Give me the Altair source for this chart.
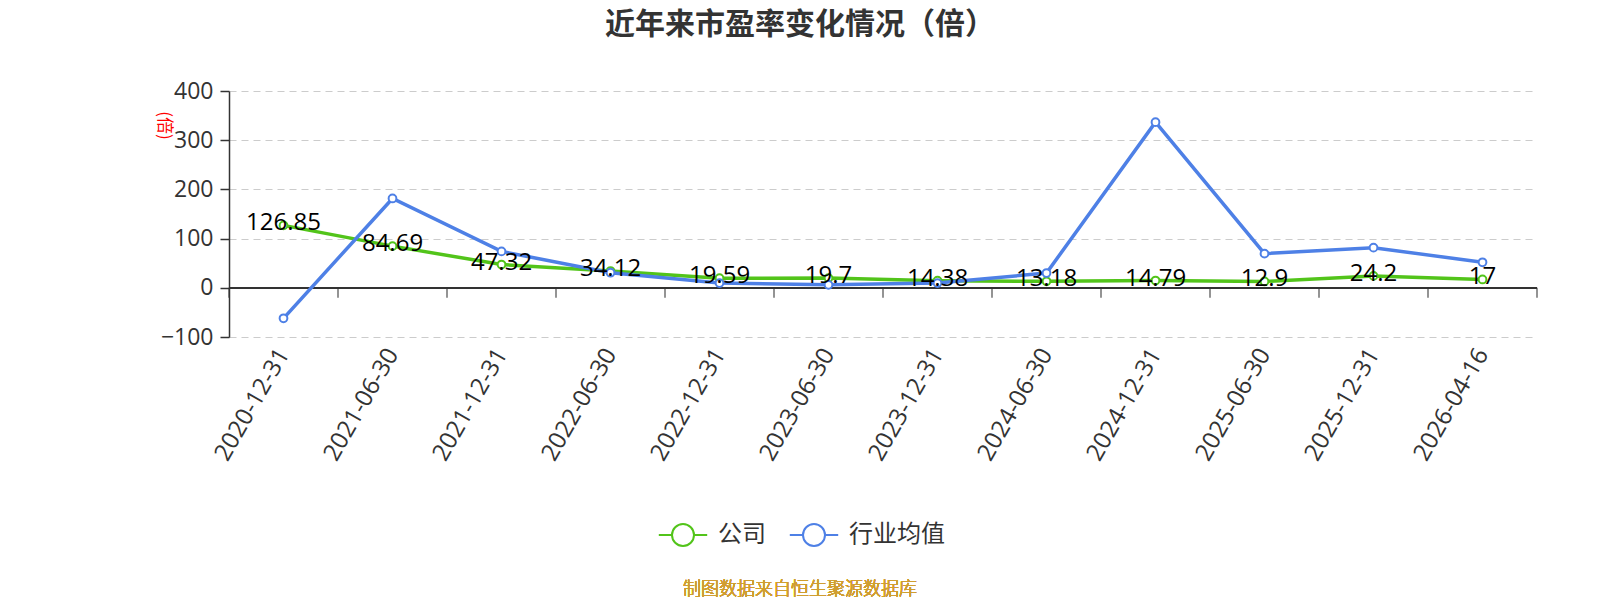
import altair as alt
import pandas as pd

dates = ["2020-12-31", "2021-06-30", "2021-12-31", "2022-06-30", "2022-12-31", "2023-06-30",
         "2023-12-31", "2024-06-30", "2024-12-31", "2025-06-30", "2025-12-31", "2026-04-16"]
company = [126.85, 84.69, 47.32, 34.12, 19.59, 19.7, 14.38, 13.18, 14.79, 12.9, 24.2, 17]
industry = [-62, 181.6, 74, 30.6, 9.6, 6, 9.6, 30, 336.7, 69.4, 81.6, 51.8]
series_names = ["公司", "行业均值"]
series_colors = ["#52c41a", "#4e80e6"]

rows = []
for i, d in enumerate(dates):
    rows.append({"idx": i, "date": d, "series": series_names[0], "value": company[i],
                 "label": f"{company[i]:g}"})
    rows.append({"idx": i, "date": d, "series": series_names[1], "value": industry[i],
                 "label": f"{industry[i]:g}"})
df = pd.DataFrame(rows)
bounds = pd.DataFrame({"b": [i - 0.5 for i in range(len(dates) + 1)]})

FONT = "Open Sans, Noto Sans CJK SC"
label_expr = "[" + ",".join(f"'{d}'" for d in dates) + "][datum.value]"

x_enc = alt.X("idx:Q", scale=alt.Scale(domain=[-0.5, len(dates) - 0.5], nice=False, zero=False),
              axis=alt.Axis(values=list(range(len(dates))), labelExpr=label_expr, labelAngle=-60,
                            labelFontSize=24, labelColor="#333", labelPadding=13, grid=False,
                            domain=False, ticks=False, title=None, labelFont=FONT))
y_enc = alt.Y("value:Q", scale=alt.Scale(domain=[-100, 400], nice=False),
              axis=alt.Axis(values=[-100, 0, 100, 200, 300, 400], labelFontSize=23, labelColor="#333",
                            labelFont=FONT, grid=True, gridDash=[7, 5], gridColor="#cccccc",
                            gridWidth=1.2, domainColor="#333", domainWidth=1.5, tickColor="#333",
                            tickSize=9, tickWidth=1.5, labelPadding=7,
                            title="(倍)", titleAngle=90, titleColor="red", titleFontSize=17,
                            titleFontWeight="normal", titleX=-66, titleY=34, titleAlign="center",
                            titleBaseline="middle", titleFont="Noto Sans CJK SC"))

legend = alt.Legend(orient="none", legendX=442, legendY=432, direction="horizontal", title=None,
                    symbolType="M-2.2,0L-1,0M1,0L2.2,0M-1,0A1,1,0,1,1,1,0A1,1,0,1,1,-1,0Z",
                    symbolSize=484, symbolStrokeWidth=2, symbolFillColor="white",
                    labelFontSize=24, labelColor="#333", labelFont="Noto Sans CJK SC",
                    labelOffset=23, columnPadding=19, padding=0)
color_enc = alt.Color("series:N", scale=alt.Scale(domain=series_names, range=series_colors),
                      legend=legend)

base = alt.Chart(df)

def series_layer(name):
    return base.transform_filter(alt.datum.series == name).mark_line(
        strokeWidth=3.5,
        point=alt.OverlayMarkDef(filled=False, fill="white", size=60, strokeWidth=2)
    ).encode(x=x_enc, y=y_enc, color=color_enc)

zero_rule = alt.Chart(bounds).mark_rule(color="#333", strokeWidth=1.5).encode(y=alt.datum(0))
ticks = alt.Chart(bounds).mark_tick(orient="vertical", size=10, thickness=1.5, color="#333",
                                    yOffset=5).encode(x=alt.X("b:Q"), y=alt.datum(0))

labels = base.transform_filter(alt.datum.series == series_names[0]).mark_text(
    fontSize=24, color="black", baseline="middle", dy=-2, font=FONT
).encode(x="idx:Q", y="value:Q", text="label:N")

footer = alt.Chart(bounds).mark_text(
    text="制图数据来自恒生聚源数据库", fontSize=18, color="#d09e30", font="Noto Sans CJK SC",
    fontWeight=300, baseline="middle", align="center"
).encode(x=alt.value(571), y=alt.value(499))

chart = alt.layer(
    zero_rule, ticks, series_layer(series_names[0]), series_layer(series_names[1]), labels, footer
).properties(
    width=1308, height=246,
    padding={"left": 229, "top": 91, "right": 63, "bottom": 263},
    autosize=alt.AutoSizeParams(type="none"),
    title=alt.TitleParams("近年来市盈率变化情况（倍）", fontSize=30, fontWeight="bold", color="#333",
                          font="Noto Sans CJK SC", anchor="middle", dx=-83, offset=40),
).configure_view(stroke=None)

chart.save("out.html", embed_options={"renderer": "svg", "actions": False})
